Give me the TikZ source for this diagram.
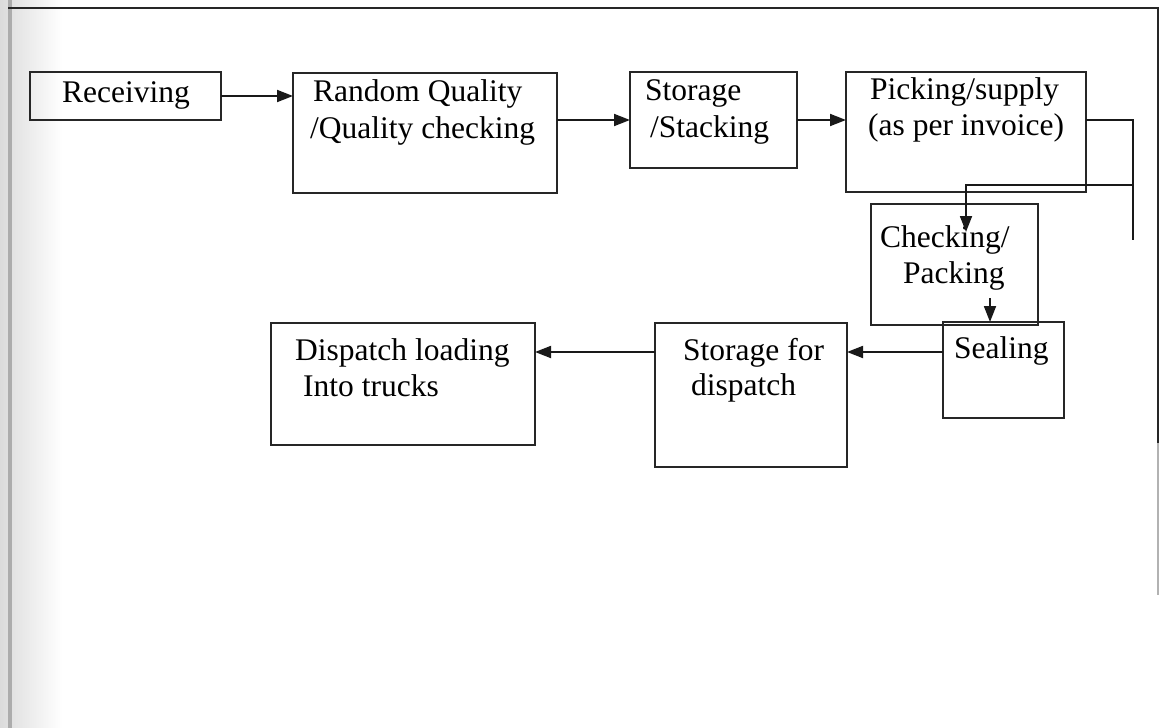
\documentclass[tikz,border=0pt]{standalone}
\usepackage{fontspec}
\setmainfont{Liberation Serif}
\usetikzlibrary{arrows.meta}
\begin{document}
\begin{tikzpicture}[x=1pt,y=1pt,
  box/.style={draw=black!85, line width=1.8pt, rectangle, inner sep=0pt, outer sep=0pt},
  txt/.style={anchor=base west, inner sep=0pt, font=\fontsize{31.5}{36}\selectfont},
  conn/.style={draw=black!90, line width=1.8pt},
  arr/.style={conn, -{Triangle[length=16pt,width=12pt]}}]
\useasboundingbox (0,0) rectangle (1160,-728);
% scanned page edge
\shade[left color=gray!28, right color=white] (0,0) rectangle (62,-728);
\draw[gray!65, line width=4pt] (10,0) -- (10,-728);
\draw[black!85, line width=1.6pt] (8,-8) -- (1158,-8) -- (1158,-443);
\draw[gray!60, line width=1.6pt] (1158,-443) -- (1158,-595);
% boxes
\node[box, minimum width=191pt, minimum height=48pt] (rec) at (125.5,-96) {};
\node[box, minimum width=264pt, minimum height=120pt] (rq) at (425,-133) {};
\node[box, minimum width=167pt, minimum height=96pt] (sto) at (713.5,-120) {};
\node[box, minimum width=240pt, minimum height=120pt] (pick) at (966,-132) {};
\node[box, minimum width=167pt, minimum height=121pt] (chk) at (954.5,-264.5) {};
\node[box, minimum width=121pt, minimum height=96pt] (seal) at (1003.5,-370) {};
\node[box, minimum width=192pt, minimum height=144pt] (sfd) at (751,-395) {};
\node[box, minimum width=264pt, minimum height=122pt] (disp) at (403,-384) {};
% texts
\node[txt] (t1) at (62,-102) {Receiving};
\node[txt] (t2a) at (313,-101) {Random Quality};
\node[txt] (t2b) at (310,-138) {/Quality checking};
\node[txt] (t3a) at (645,-100) {Storage};
\node[txt] (t3b) at (650,-137) {/Stacking};
\node[txt] (t4a) at (870,-99) {Picking/supply};
\node[txt] (t4b) at (868,-135) {(as per invoice)};
\node[txt] (t5a) at (880,-247) {Checking/};
\node[txt] (t5b) at (903,-283) {Packing};
\node[txt] (t6) at (954,-358) {Sealing};
\node[txt] (t7a) at (683,-360) {Storage for};
\node[txt] (t7b) at (691,-395) {dispatch};
\node[txt] (t8a) at (295,-360) {Dispatch loading};
\node[txt] (t8b) at (303,-396) {Into trucks};
% connectors
\draw[arr] (rec.east) -- (rec.east -| rq.west);
\draw[arr] (rq.east |- sto.west) -- (sto.west);
\draw[arr] (sto.east) -- (sto.east -| pick.west);
\coordinate (pr) at (1133,-120);
\coordinate (pd) at (1133,-240);
\coordinate (pj) at (1133,-185);
\coordinate (pk) at (966,-185);
\coordinate (ptip) at (966,-232);
\draw[conn] (pick.east |- pr) -- (pr) -- (pd);
\draw[arr] (pj) -- (pk) -- (ptip);
\coordinate (cs) at (990,-298);
\draw[arr] (cs) -- (cs |- seal.north);
\coordinate (r2) at (0,-352);
\draw[arr] (seal.west |- r2) -- (sfd.east |- r2);
\draw[arr] (sfd.west |- r2) -- (disp.east |- r2);
\end{tikzpicture}
\end{document}
